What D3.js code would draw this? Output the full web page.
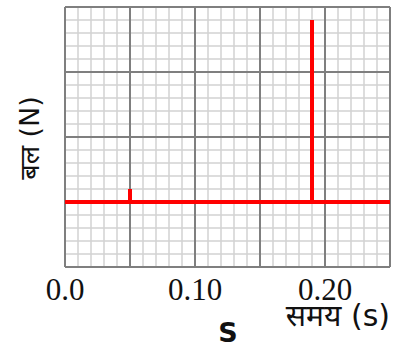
<!DOCTYPE html>
<html lang="hi">
<head>
  <meta charset="UTF-8" />
  <title>बल बनाम समय</title>
  <style>
    html, body {
      margin: 0; padding: 0;
      background: #fff;
      overflow: hidden;
    }
    svg { display: block; }
    .tick-label {
      font-family: "Liberation Serif", "DejaVu Serif", serif;
      font-size: 31px;
      fill: #111;
    }
    .axis-label {
      font-family: "DejaVu Sans", "Noto Sans", sans-serif;
      font-size: 27px;
      fill: #111;
    }
  </style>
</head>
<body>
  <svg width="393" height="347"></svg>

  <script src="https://d3js.org/d3.v7.min.js"></script>
  <script>
    // force (arbitrary units) against time in seconds
    const timeVals  = [0.0, 0.05, 0.05, 0.05, 0.19, 0.19, 0.19, 0.25];
    const forceVals = [1.0, 1.0, 1.2, 1.0, 1.0, 3.8, 1.0, 1.0];
    const xTickVals = [0.0, 0.10, 0.20];
    const xTickText = ["0.0", "0.10", "0.20"];

    const width = 393, height = 347;
    const margin = { left: 65, right: 3, top: 7, bottom: 80 };

    const svg = d3.select("svg");

    const x = d3.scaleLinear()
      .domain([0, 0.25])
      .range([margin.left, width - margin.right]);
    const y = d3.scaleLinear()
      .domain([0, 4])
      .range([height - margin.bottom, margin.top]);

    const g = svg.append("g");

    // minor grid, 5 per major cell
    const minorX = d3.range(0, 0.2501, 0.01);
    const minorY = d3.range(0, 4.001, 0.2);
    g.selectAll(".minor-x")
      .data(minorX)
      .join("line")
      .attr("x1", d => x(d)).attr("x2", d => x(d))
      .attr("y1", y(0)).attr("y2", y(4))
      .attr("stroke", "#d2d2d2").attr("stroke-width", 1.5);
    g.selectAll(".minor-y")
      .data(minorY)
      .join("line")
      .attr("y1", d => y(d)).attr("y2", d => y(d))
      .attr("x1", x(0)).attr("x2", x(0.25))
      .attr("stroke", "#d2d2d2").attr("stroke-width", 1.5);

    // major grid
    const majorX = d3.range(0, 0.2501, 0.05);
    const majorY = d3.range(0, 4.001, 1);
    g.selectAll(".major-x")
      .data(majorX)
      .join("line")
      .attr("x1", d => x(d)).attr("x2", d => x(d))
      .attr("y1", y(0)).attr("y2", y(4))
      .attr("stroke", "#7f7f7f").attr("stroke-width", 2);
    g.selectAll(".major-y")
      .data(majorY)
      .join("line")
      .attr("y1", d => y(d)).attr("y2", d => y(d))
      .attr("x1", x(0)).attr("x2", x(0.25))
      .attr("stroke", "#7f7f7f").attr("stroke-width", 2);

    // the force trace
    const pts = timeVals.map((t, i) => [t, forceVals[i]]);
    g.append("path")
      .datum(pts)
      .attr("fill", "none")
      .attr("stroke", "#ff0000")
      .attr("stroke-width", 4)
      .attr("stroke-linejoin", "miter")
      .attr("d", d3.line().x(d => x(d[0])).y(d => y(d[1])));

    // tick labels
    svg.selectAll(".tick-label")
      .data(xTickVals)
      .join("text")
      .attr("class", "tick-label")
      .attr("x", d => x(d))
      .attr("y", 300)
      .attr("text-anchor", "middle")
      .text((d, i) => xTickText[i]);

    // axis titles (x title sits right under the last tick, as in the source)
    svg.append("text")
      .attr("class", "axis-label")
      .attr("x", 390)
      .attr("y", 326)
      .attr("text-anchor", "end")
      .attr("font-size", 30)
      .style("font-size", "30px")
      .text("समय (s)");

    svg.append("text")
      .attr("class", "axis-label")
      .attr("transform", "translate(39,138) rotate(-90)")
      .attr("text-anchor", "middle")
      .text("बल (N)");

    svg.append("text")
      .attr("x", 228)
      .attr("y", 342)
      .attr("text-anchor", "middle")
      .attr("font-family", "DejaVu Sans, sans-serif")
      .attr("font-weight", "bold")
      .attr("font-size", 27)
      .attr("fill", "#111")
      .text("S");
  </script>
</body>
</html>
